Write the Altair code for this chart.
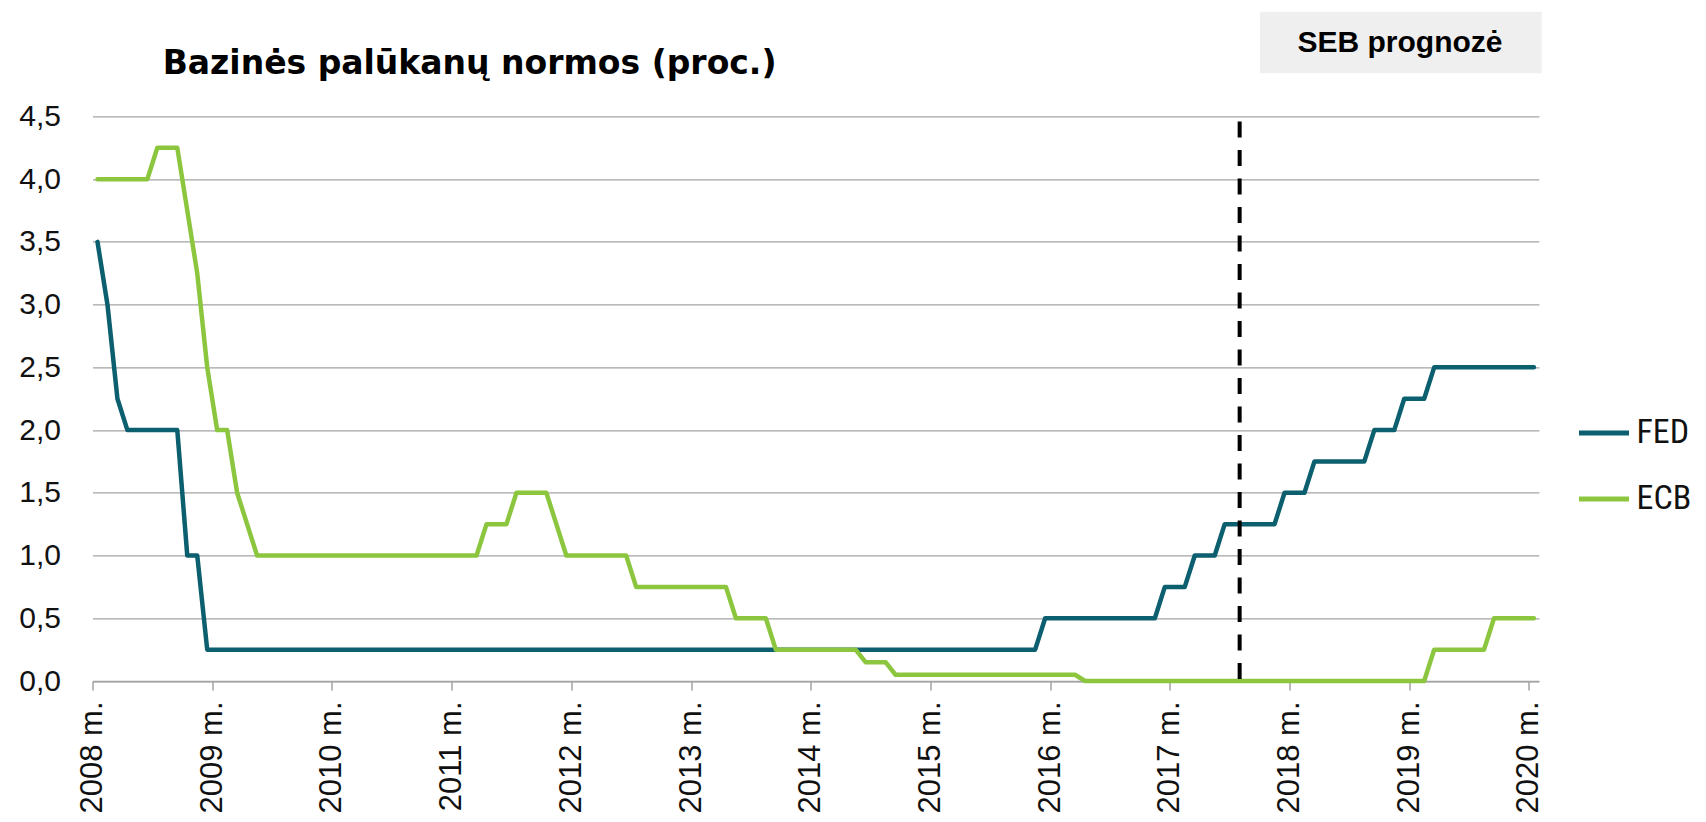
import altair as alt
import pandas as pd

# ---------------- data (monthly, Jan 2008 .. Jan 2020) ----------------
years = list(range(2008, 2021))
series_names = ["FED", "ECB"]
series_colors = ["#0b5f6e", "#8cc63f"]

fed_rates = [
    3.5, 3.0, 2.25, 2.0, 2.0, 2.0, 2.0, 2.0, 2.0, 1.0, 1.0, 0.25,          # 2008
    0.25, 0.25, 0.25, 0.25, 0.25, 0.25, 0.25, 0.25, 0.25, 0.25, 0.25, 0.25, # 2009
    0.25, 0.25, 0.25, 0.25, 0.25, 0.25, 0.25, 0.25, 0.25, 0.25, 0.25, 0.25, # 2010
    0.25, 0.25, 0.25, 0.25, 0.25, 0.25, 0.25, 0.25, 0.25, 0.25, 0.25, 0.25, # 2011
    0.25, 0.25, 0.25, 0.25, 0.25, 0.25, 0.25, 0.25, 0.25, 0.25, 0.25, 0.25, # 2012
    0.25, 0.25, 0.25, 0.25, 0.25, 0.25, 0.25, 0.25, 0.25, 0.25, 0.25, 0.25, # 2013
    0.25, 0.25, 0.25, 0.25, 0.25, 0.25, 0.25, 0.25, 0.25, 0.25, 0.25, 0.25, # 2014
    0.25, 0.25, 0.25, 0.25, 0.25, 0.25, 0.25, 0.25, 0.25, 0.25, 0.25, 0.5,  # 2015
    0.5, 0.5, 0.5, 0.5, 0.5, 0.5, 0.5, 0.5, 0.5, 0.5, 0.5, 0.75,            # 2016
    0.75, 0.75, 1.0, 1.0, 1.0, 1.25, 1.25, 1.25, 1.25, 1.25, 1.25, 1.5,     # 2017
    1.5, 1.5, 1.75, 1.75, 1.75, 1.75, 1.75, 1.75, 2.0, 2.0, 2.0, 2.25,      # 2018
    2.25, 2.25, 2.5, 2.5, 2.5, 2.5, 2.5, 2.5, 2.5, 2.5, 2.5, 2.5,           # 2019
    2.5,                                                                    # 2020
]

ecb_rates = [
    4.0, 4.0, 4.0, 4.0, 4.0, 4.0, 4.25, 4.25, 4.25, 3.75, 3.25, 2.5,        # 2008
    2.0, 2.0, 1.5, 1.25, 1.0, 1.0, 1.0, 1.0, 1.0, 1.0, 1.0, 1.0,            # 2009
    1.0, 1.0, 1.0, 1.0, 1.0, 1.0, 1.0, 1.0, 1.0, 1.0, 1.0, 1.0,             # 2010
    1.0, 1.0, 1.0, 1.25, 1.25, 1.25, 1.5, 1.5, 1.5, 1.5, 1.25, 1.0,         # 2011
    1.0, 1.0, 1.0, 1.0, 1.0, 1.0, 0.75, 0.75, 0.75, 0.75, 0.75, 0.75,       # 2012
    0.75, 0.75, 0.75, 0.75, 0.5, 0.5, 0.5, 0.5, 0.25, 0.25, 0.25, 0.25,     # 2013
    0.25, 0.25, 0.25, 0.25, 0.25, 0.15, 0.15, 0.15, 0.05, 0.05, 0.05, 0.05, # 2014
    0.05, 0.05, 0.05, 0.05, 0.05, 0.05, 0.05, 0.05, 0.05, 0.05, 0.05, 0.05, # 2015
    0.05, 0.05, 0.05, 0.0, 0.0, 0.0, 0.0, 0.0, 0.0, 0.0, 0.0, 0.0,          # 2016
    0.0, 0.0, 0.0, 0.0, 0.0, 0.0, 0.0, 0.0, 0.0, 0.0, 0.0, 0.0,             # 2017
    0.0, 0.0, 0.0, 0.0, 0.0, 0.0, 0.0, 0.0, 0.0, 0.0, 0.0, 0.0,             # 2018
    0.0, 0.0, 0.25, 0.25, 0.25, 0.25, 0.25, 0.25, 0.5, 0.5, 0.5, 0.5,       # 2019
    0.5,                                                                    # 2020
]

y_ticks = [0.0, 0.5, 1.0, 1.5, 2.0, 2.5, 3.0, 3.5, 4.0, 4.5]
forecast_start = (2017, 8)   # SEB forecast begins (start of August 2017)
title_text = "Bazinės palūkanų normos (proc.)"
box_text = "SEB prognozė"

# month centres on a category-like axis (each month one equal slot)
month_pos = []
for y in years:
    for m in range(1, 13):
        month_pos.append(y + (m - 0.5) / 12)
month_pos = month_pos[: len(fed_rates)]

df_fed = pd.DataFrame({"pos": month_pos, "rate": fed_rates, "series": "FED"})
df_ecb = pd.DataFrame({"pos": month_pos, "rate": ecb_rates, "series": "ECB"})
df_rule = pd.DataFrame({
    "pos": [forecast_start[0] + (forecast_start[1] - 1) / 12],
    "y0": [y_ticks[-1]],
    "y1": [y_ticks[0]],
})

# ---------------- layout ----------------
W = 1446.4
H = 564.6
GRID = "#a3a3a3"

x_scale = alt.Scale(domain=[years[0], years[-1] + 1 / 12], nice=False, zero=False)
y_scale = alt.Scale(domain=[y_ticks[0], y_ticks[-1]], nice=False, zero=False)
color_scale = alt.Scale(domain=series_names, range=series_colors)

x_axis = alt.Axis(
    values=years,
    labelExpr="format(datum.value, 'd') + ' m.'",
    labelAngle=-90,
    labelFont="Liberation Sans",
    labelFontSize=31,
    labelColor="#111111",
    labelPadding=11,
    labelOverlap=False,
    labelFlush=False,
    tickSize=9,
    tickColor=GRID,
    tickWidth=1.5,
    domainColor=GRID,
    domainWidth=1.5,
    grid=False,
    title=None,
)
y_axis = alt.Axis(
    values=y_ticks,
    labelExpr="replace(format(datum.value, '.1f'), '.', ',')",
    labelFont="Liberation Sans",
    labelFontSize=30,
    labelColor="#111111",
    labelPadding=32,
    ticks=False,
    domain=False,
    grid=True,
    gridColor=GRID,
    gridWidth=1.3,
    title=None,
)
legend = alt.Legend(
    orient="none",
    legendX=1484,
    legendY=289,
    title=None,
    symbolType="stroke",
    symbolSize=2500,
    symbolStrokeWidth=5,
    labelFont="Liberation Sans Narrow, Roboto Condensed, Roboto",
    labelFontSize=34,
    labelColor="#111111",
    labelOffset=5,
    rowPadding=21,
)

def line_layer(df):
    return alt.Chart(df).mark_line(
        strokeWidth=4.5, strokeJoin="round", strokeCap="round"
    ).encode(
        x=alt.X("pos:Q", scale=x_scale, axis=x_axis),
        y=alt.Y("rate:Q", scale=y_scale, axis=y_axis),
        color=alt.Color("series:N", scale=color_scale, legend=legend),
    )

fed_line = line_layer(df_fed)
ecb_line = line_layer(df_ecb)

rule = alt.Chart(df_rule).mark_rule(
    color="black", strokeWidth=4, strokeDash=[16, 12.5], strokeDashOffset=-5
).encode(
    x=alt.X("pos:Q", scale=x_scale, axis=x_axis),
    y=alt.Y("y0:Q", scale=y_scale, axis=y_axis),
    y2="y1:Q",
)

box = alt.Chart(pd.DataFrame({"t": [box_text]})).mark_rect(color="#efefef").encode(
    x=alt.value(1167.5), x2=alt.value(1449.2), y=alt.value(-104.7), y2=alt.value(-43.1)
)
box_label = alt.Chart(pd.DataFrame({"t": [box_text]})).mark_text(
    font="Liberation Sans", fontSize=30, fontWeight="bold", color="black",
    align="center", baseline="alphabetic",
).encode(text="t:N", x=alt.value(1307.5), y=alt.value(-64.7))

title = alt.Chart(pd.DataFrame({"t": [title_text]})).mark_text(
    font="DejaVu Sans", fontSize=33, fontWeight="bold", color="black",
    align="left", baseline="alphabetic",
).encode(text="t:N", x=alt.value(70.2), y=alt.value(-42.4))

chart = alt.layer(box, box_label, title, fed_line, ecb_line, rule).properties(
    width=W,
    height=H,
    autosize=alt.AutoSizeParams(type="none"),
    padding={"left": 84.5, "top": 108.4, "right": 159.1, "bottom": 133},
    background="white",
).configure_view(stroke=None)

chart.save("out.html", embed_options={"renderer": "svg", "actions": False})
